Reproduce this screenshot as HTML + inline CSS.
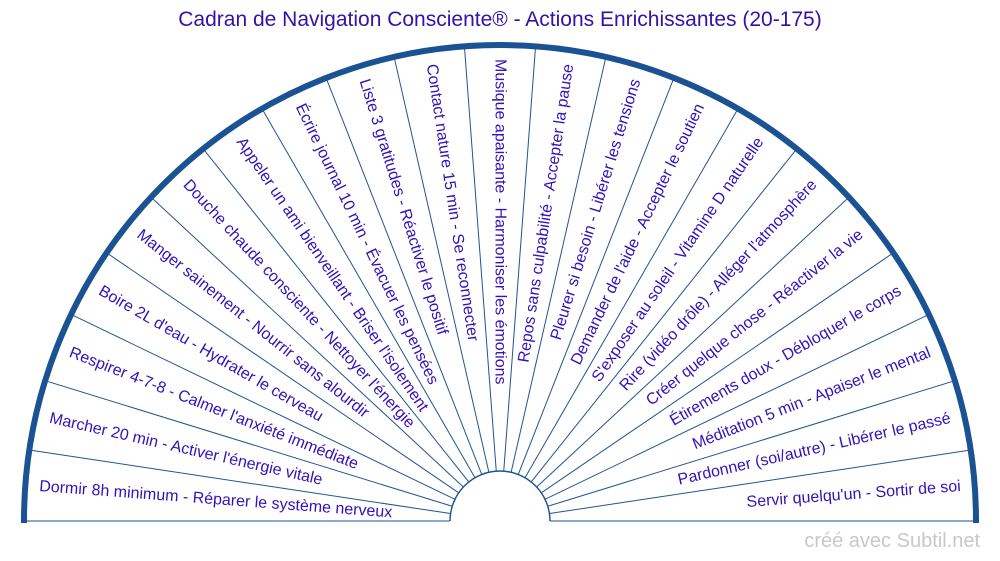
<!DOCTYPE html>
<html><head><meta charset="utf-8"><style>
body{margin:0;background:#fff;}
svg{display:block;font-family:"Liberation Sans",Arial,sans-serif;}
.l{fill:#3311bb;font-size:16px;dominant-baseline:central;}
</style></head><body>
<svg width="1000" height="561" viewBox="0 0 1000 561">
<text x="500" y="26" text-anchor="middle" font-size="21" fill="#3311aa">Cadran de Navigation Consciente® - Actions Enrichissantes (20-175)</text>
<line x1="24" y1="521" x2="450" y2="521" stroke="#8aa9c8" stroke-width="2"/>
<line x1="550" y1="521" x2="976" y2="521" stroke="#8aa9c8" stroke-width="2"/>
<g transform="translate(500,521)" stroke="#1f5592" stroke-width="1">
<line x1="50" y1="0" x2="476" y2="0" transform="rotate(-8.5714)"/>
<line x1="50" y1="0" x2="476" y2="0" transform="rotate(-17.1429)"/>
<line x1="50" y1="0" x2="476" y2="0" transform="rotate(-25.7143)"/>
<line x1="50" y1="0" x2="476" y2="0" transform="rotate(-34.2857)"/>
<line x1="50" y1="0" x2="476" y2="0" transform="rotate(-42.8571)"/>
<line x1="50" y1="0" x2="476" y2="0" transform="rotate(-51.4286)"/>
<line x1="50" y1="0" x2="476" y2="0" transform="rotate(-60)"/>
<line x1="50" y1="0" x2="476" y2="0" transform="rotate(-68.5714)"/>
<line x1="50" y1="0" x2="476" y2="0" transform="rotate(-77.1429)"/>
<line x1="50" y1="0" x2="476" y2="0" transform="rotate(-85.7143)"/>
<line x1="50" y1="0" x2="476" y2="0" transform="rotate(-94.2857)"/>
<line x1="50" y1="0" x2="476" y2="0" transform="rotate(-102.8571)"/>
<line x1="50" y1="0" x2="476" y2="0" transform="rotate(-111.4286)"/>
<line x1="50" y1="0" x2="476" y2="0" transform="rotate(-120)"/>
<line x1="50" y1="0" x2="476" y2="0" transform="rotate(-128.5714)"/>
<line x1="50" y1="0" x2="476" y2="0" transform="rotate(-137.1429)"/>
<line x1="50" y1="0" x2="476" y2="0" transform="rotate(-145.7143)"/>
<line x1="50" y1="0" x2="476" y2="0" transform="rotate(-154.2857)"/>
<line x1="50" y1="0" x2="476" y2="0" transform="rotate(-162.8571)"/>
<line x1="50" y1="0" x2="476" y2="0" transform="rotate(-171.4286)"/>
<path d="M -50 0 A 50 50 0 0 1 50 0" fill="none" stroke-width="1.5"/>
<path d="M -476 0 A 476 476 0 0 1 476 0" fill="none" stroke="#1a5294" stroke-width="6"/>
<line x1="-476" y1="-1" x2="-476" y2="2" stroke="#1a5294" stroke-width="6"/>
<line x1="476" y1="-1" x2="476" y2="2" stroke="#1a5294" stroke-width="6"/>
</g>
<g transform="translate(500,521)">
<text class="l" x="-462" transform="rotate(4.2857)">Dormir 8h minimum - Réparer le système nerveux</text>
<text class="l" x="-462" transform="rotate(12.8571)">Marcher 20 min - Activer l'énergie vitale</text>
<text class="l" x="-462" transform="rotate(21.4286)">Respirer 4-7-8 - Calmer l'anxiété immédiate</text>
<text class="l" x="-462" transform="rotate(30)">Boire 2L d'eau - Hydrater le cerveau</text>
<text class="l" x="-462" transform="rotate(38.5714)">Manger sainement - Nourrir sans alourdir</text>
<text class="l" x="-462" transform="rotate(47.1429)">Douche chaude consciente - Nettoyer l'énergie</text>
<text class="l" x="-462" transform="rotate(55.7143)">Appeler un ami bienveillant - Briser l'isolement</text>
<text class="l" x="-462" transform="rotate(64.2857)">Écrire journal 10 min - Évacuer les pensées</text>
<text class="l" x="-462" transform="rotate(72.8571)">Liste 3 gratitudes - Réactiver le positif</text>
<text class="l" x="-462" transform="rotate(81.4286)">Contact nature 15 min - Se reconnecter</text>
<text class="l" x="-462" transform="rotate(90)">Musique apaisante - Harmoniser les émotions</text>
<text class="l" x="462" text-anchor="end" transform="rotate(-81.4286)">Repos sans culpabilité - Accepter la pause</text>
<text class="l" x="462" text-anchor="end" transform="rotate(-72.8571)">Pleurer si besoin - Libérer les tensions</text>
<text class="l" x="462" text-anchor="end" transform="rotate(-64.2857)">Demander de l'aide - Accepter le soutien</text>
<text class="l" x="462" text-anchor="end" transform="rotate(-55.7143)">S'exposer au soleil - Vitamine D naturelle</text>
<text class="l" x="462" text-anchor="end" transform="rotate(-47.1429)">Rire (vidéo drôle) - Alléger l'atmosphère</text>
<text class="l" x="462" text-anchor="end" transform="rotate(-38.5714)">Créer quelque chose - Réactiver la vie</text>
<text class="l" x="462" text-anchor="end" transform="rotate(-30)">Étirements doux - Débloquer le corps</text>
<text class="l" x="462" text-anchor="end" transform="rotate(-21.4286)">Méditation 5 min - Apaiser le mental</text>
<text class="l" x="462" text-anchor="end" transform="rotate(-12.8571)">Pardonner (soi/autre) - Libérer le passé</text>
<text class="l" x="462" text-anchor="end" transform="rotate(-4.2857)">Servir quelqu'un - Sortir de soi</text>
</g>
<text x="980" y="547" text-anchor="end" font-size="20" fill="#c8c8c8">créé avec Subtil.net</text>
</svg>
</body></html>
